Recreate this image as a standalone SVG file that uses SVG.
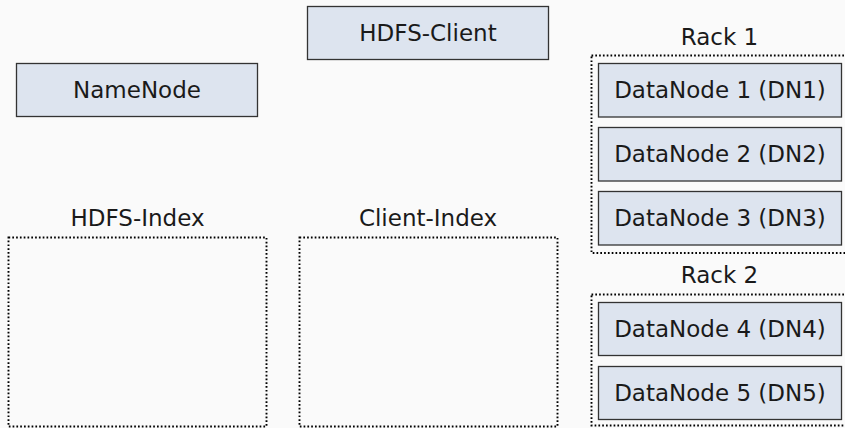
<svg xmlns="http://www.w3.org/2000/svg" width="845" height="428" viewBox="0 0 845 428">
<style>
.node{fill:#dde4ef;stroke:#333;stroke-width:1.3}
.grp{fill:none;stroke:#000;stroke-width:1.9;stroke-dasharray:1.7 2.1}
text{font-family:"DejaVu Sans",sans-serif;font-size:23px;fill:#1a1a1a;text-anchor:middle}
</style>
<rect width="845" height="428" fill="#fafafa"/>
<g id="hdfs-index"><rect class="grp" x="8.5" y="237.5" width="258" height="189"/><text x="137.5" y="226">HDFS-Index</text></g>
<g id="client-index"><rect class="grp" x="299.5" y="237.5" width="258" height="189"/><text x="428" y="226">Client-Index</text></g>
<g id="rack1"><rect class="grp" x="591.5" y="55.5" width="258" height="197.5"/><text x="719.5" y="45">Rack 1</text></g>
<g id="rack2"><rect class="grp" x="591.5" y="294.5" width="258" height="131"/><text x="719.5" y="283">Rack 2</text></g>
<g id="namenode"><rect class="node" x="16.5" y="63.5" width="241" height="53"/><text x="137" y="98">NameNode</text></g>
<g id="hdfs-client"><rect class="node" x="307.5" y="6.5" width="241" height="53"/><text x="428" y="41">HDFS-Client</text></g>
<g id="dn1"><rect class="node" x="598.5" y="63.5" width="243" height="53.5"/><text x="720" y="98">DataNode 1 (DN1)</text></g>
<g id="dn2"><rect class="node" x="598.5" y="127.5" width="243" height="53.5"/><text x="720" y="162">DataNode 2 (DN2)</text></g>
<g id="dn3"><rect class="node" x="598.5" y="191.5" width="243" height="53.5"/><text x="720" y="226">DataNode 3 (DN3)</text></g>
<g id="dn4"><rect class="node" x="598.5" y="302.5" width="243" height="53"/><text x="720" y="337">DataNode 4 (DN4)</text></g>
<g id="dn5"><rect class="node" x="598.5" y="366.5" width="243" height="53"/><text x="720" y="401">DataNode 5 (DN5)</text></g>
<g id="connectors"></g>
</svg>
